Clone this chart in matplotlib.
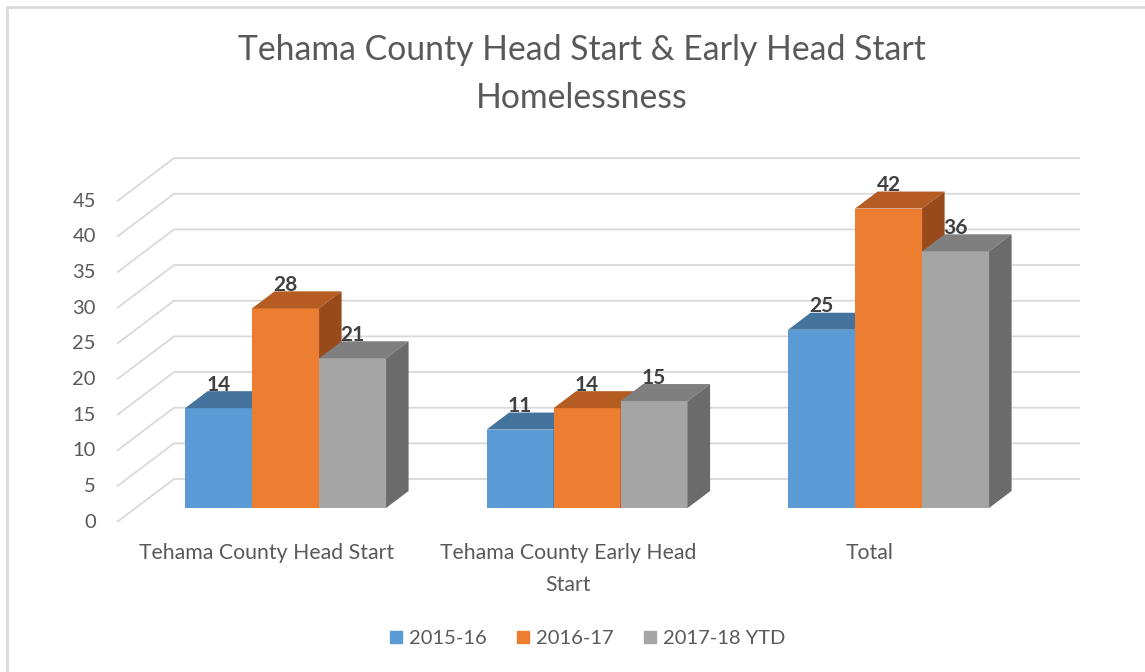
import matplotlib
matplotlib.use("Agg")
import matplotlib.pyplot as plt
from matplotlib.patches import Polygon
from matplotlib.lines import Line2D

plt.rcParams["font.family"] = ["Lato", "DejaVu Sans"]

categories = ["Tehama County Head Start", "Tehama County Early Head\nStart", "Total"]
series = ["2015-16", "2016-17", "2017-18 YTD"]
v_2015_16 = [14, 11, 25]
v_2016_17 = [28, 14, 42]
v_2017_18 = [21, 15, 36]
values = [v_2015_16, v_2016_17, v_2017_18]
y_ticks = [0, 5, 10, 15, 20, 25, 30, 35, 40, 45]

# face colours per series: front, top, side
FRONT = ["#5B9BD5", "#ED7D31", "#A5A5A5"]
TOP = ["#44739E", "#B45C22", "#7F7F7F"]
SIDE = ["#3A6690", "#984A1B", "#6B6B6B"]
TEXT = "#595959"
GRID = "#D9D9D9"

# fake oblique 3D: pixel scale of one category step / one value unit
W_PX, H_PX = 1145, 672
PX_CAT, PX_VAL = 301.5, 7.13
X0_PX, Y0_PX = 267, 522          # floor-front of first category, value 0
DX = 57 / PX_CAT                 # full floor depth, in category units
DY = 43 / PX_VAL                 # full floor depth, in value units
D_FRONT, D_BACK = 14 / 43, 31 / 43
BAR_W = 67 / PX_CAT
X_LEFT = (117 - X0_PX) / PX_CAT
X_RIGHT = (1080 - X0_PX) / PX_CAT

fig = plt.figure(figsize=(W_PX / 100, H_PX / 100), dpi=100)
ax = fig.add_axes([0, 0, 1, 1])
ax.set_xlim(-X0_PX / PX_CAT, (W_PX - X0_PX) / PX_CAT)
ax.set_ylim(-(H_PX - Y0_PX) / PX_VAL, Y0_PX / PX_VAL)
ax.axis("off")

# back wall + side wall gridlines
for t in y_ticks:
    ax.plot([X_LEFT, X_LEFT + DX, X_RIGHT], [t, t + DY, t + DY],
            color=GRID, lw=1.3, solid_capstyle="butt", zorder=1)
    ax.text(X_LEFT - 0.07, t, str(t), ha="right", va="center",
            fontsize=14.5, color=TEXT)

ddx = (D_BACK - D_FRONT) * DX
ddy = (D_BACK - D_FRONT) * DY
base = D_FRONT * DY
for j, vals in enumerate(values):
    for i, v in enumerate(vals):
        xl = i + (j - 1.5) * BAR_W + D_FRONT * DX
        xr = xl + BAR_W
        top = v + base
        z = 3 + j
        ax.bar(xl, v, width=BAR_W, bottom=base, align="edge",
               color=FRONT[j], zorder=z, linewidth=0)
        ax.add_patch(Polygon([(xl, top), (xr, top), (xr + ddx, top + ddy), (xl + ddx, top + ddy)],
                             closed=True, facecolor=TOP[j], edgecolor="none", zorder=z))
        ax.add_patch(Polygon([(xr, base), (xr, top), (xr + ddx, top + ddy), (xr + ddx, base + ddy)],
                             closed=True, facecolor=SIDE[j], edgecolor="none", zorder=z))
        ax.text((xl + xr) / 2, top + ddy - 0.5, str(v), ha="center", va="bottom",
                fontsize=15, fontweight="bold", color="#404040", zorder=10)

# category labels under the floor front
for i, name in enumerate(categories):
    ax.text(i, -3.0, name, ha="center", va="top", fontsize=15.3,
            color=TEXT, linespacing=1.7)

fig.text(582 / W_PX, 1 - 74 / H_PX, "Tehama County Head Start & Early Head Start\nHomelessness",
         ha="center", va="center", fontsize=24.3, color=TEXT, linespacing=1.6)

handles = [Line2D([], [], marker="s", linestyle="none", markersize=9,
                  markerfacecolor=c, markeredgecolor=c) for c in FRONT]
fig.legend(handles, series, loc="center", bbox_to_anchor=(587 / W_PX, 1 - 638 / H_PX),
           ncol=3, frameon=False, fontsize=14.5, labelcolor=TEXT,
           handletextpad=0.25, columnspacing=1.4, handlelength=0.8)

# chart border (top and left edges visible)
fig.add_artist(Line2D([7 / W_PX, 7 / W_PX, 1], [0, 1 - 7 / H_PX, 1 - 7 / H_PX],
                      color=GRID, lw=2, transform=fig.transFigure))

fig.savefig("out.png", dpi=100)
